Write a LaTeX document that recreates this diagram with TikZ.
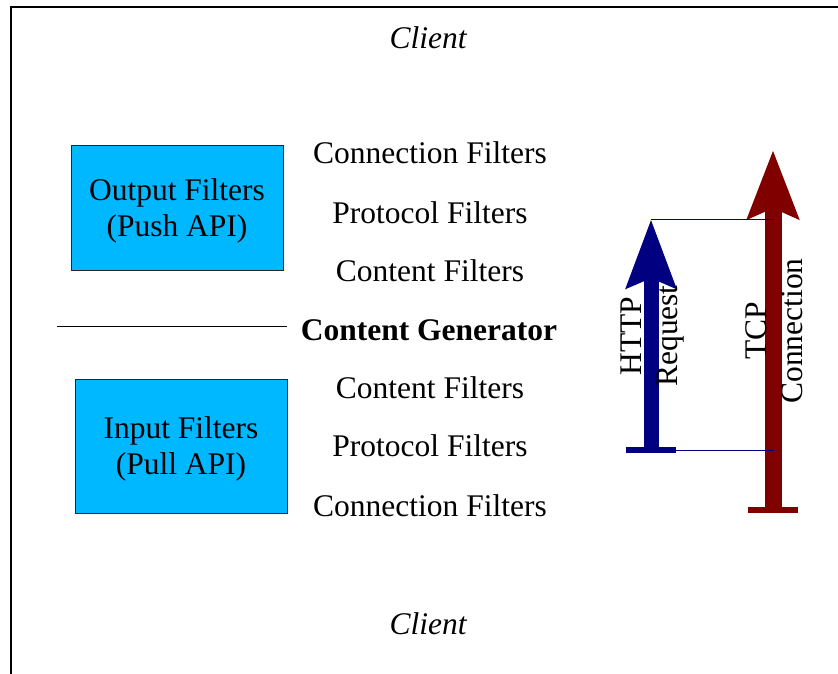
\documentclass[tikz,border=0pt]{standalone}
\usepackage{fontspec}
\setmainfont{Liberation Serif}
\usetikzlibrary{arrows.meta}
\definecolor{filterblue}{RGB}{0,184,255}
\definecolor{httpblue}{RGB}{0,0,128}
\definecolor{tcpred}{RGB}{128,0,0}
\tikzset{
  lbl/.style={inner sep=0pt, anchor=base, font=\fontsize{31.5}{36}\selectfont},
  filterbox/.style={draw=black!85, line width=0.8pt, fill=filterblue, inner sep=0pt,
    align=center, font=\fontsize{31.5}{36.5}\selectfont},
  sidetext/.style={inner sep=0pt, rotate=90, align=center, font=\fontsize{31.5}{36}\selectfont},
  link/.style={draw=httpblue, line width=0.9pt},
}
\begin{document}
\begin{tikzpicture}[x=1pt, y=-1pt]
\useasboundingbox (0,0) rectangle (838,674);

% frame
\draw[line width=1.4pt] (11,674) -- (11,7) -- (838,7);

% client labels
\node[lbl, font=\fontsize{31.5}{36}\selectfont\itshape] (ctop) at (428,49) {Client};
\node[lbl, font=\fontsize{31.5}{36}\selectfont\itshape] (cbot) at (428,634) {Client};

% filter stack
\node[lbl] (f1) at (430,164) {Connection Filters};
\node[lbl] (f2) at (430,223) {Protocol Filters};
\node[lbl] (f3) at (430,281) {Content Filters};
\node[lbl, font=\fontsize{31.5}{36}\selectfont\bfseries] (gen) at (429,340) {Content Generator};
\node[lbl] (f4) at (430,398) {Content Filters};
\node[lbl] (f5) at (430,456) {Protocol Filters};
\node[lbl] (f6) at (430,516) {Connection Filters};

% separator line
\coordinate (sepL) at (57,326);
\coordinate (sepR) at (287,326);
\draw[line width=0.9pt] (sepL) -- (sepR);

% filter boxes
\node[filterbox, minimum width=212pt, minimum height=125pt] (out) at (177,207.5) {};
\node[filterbox, minimum width=212pt, minimum height=134pt] (in) at (181,446) {};
\node[filterbox, draw=none, fill=none] (outl) at (177,211) {Output Filters\\(Push API)};
\node[filterbox, draw=none, fill=none] (inl) at (181,449) {Input Filters\\(Pull API)};

% TCP connection arrow
\coordinate (tcpB) at (773,510);
\coordinate (tcpT) at (773,150);
\coordinate (tcpBL) at (748,510);
\coordinate (tcpBR) at (798,510);
\draw[tcpred, line width=17pt, -{Stealth[length=68pt, width=50pt, inset=10pt]}] (tcpB) -- (tcpT);
\draw[tcpred, line width=6pt] (tcpBL) -- (tcpBR);

% HTTP request arrow
\coordinate (httpB) at (651,450);
\coordinate (httpT) at (651,219);
\coordinate (httpBL) at (626,450);
\coordinate (httpBR) at (676,450);
\draw[httpblue, line width=15pt, -{Stealth[length=68pt, width=48pt, inset=9pt]}] (httpB) -- (httpT);
\draw[httpblue, line width=6pt] (httpBL) -- (httpBR);

% links from the request to the connection
\draw[link] (httpT) -- (httpT -| tcpT);
\draw[link] (httpBR) -- (httpBR -| tcpB);

% arrow labels
\node[sidetext] (httpl) at (653,336) {HTTP\\Request};
\node[sidetext] (tcpl) at (774,331) {TCP\\Connection};
\end{tikzpicture}
\end{document}
